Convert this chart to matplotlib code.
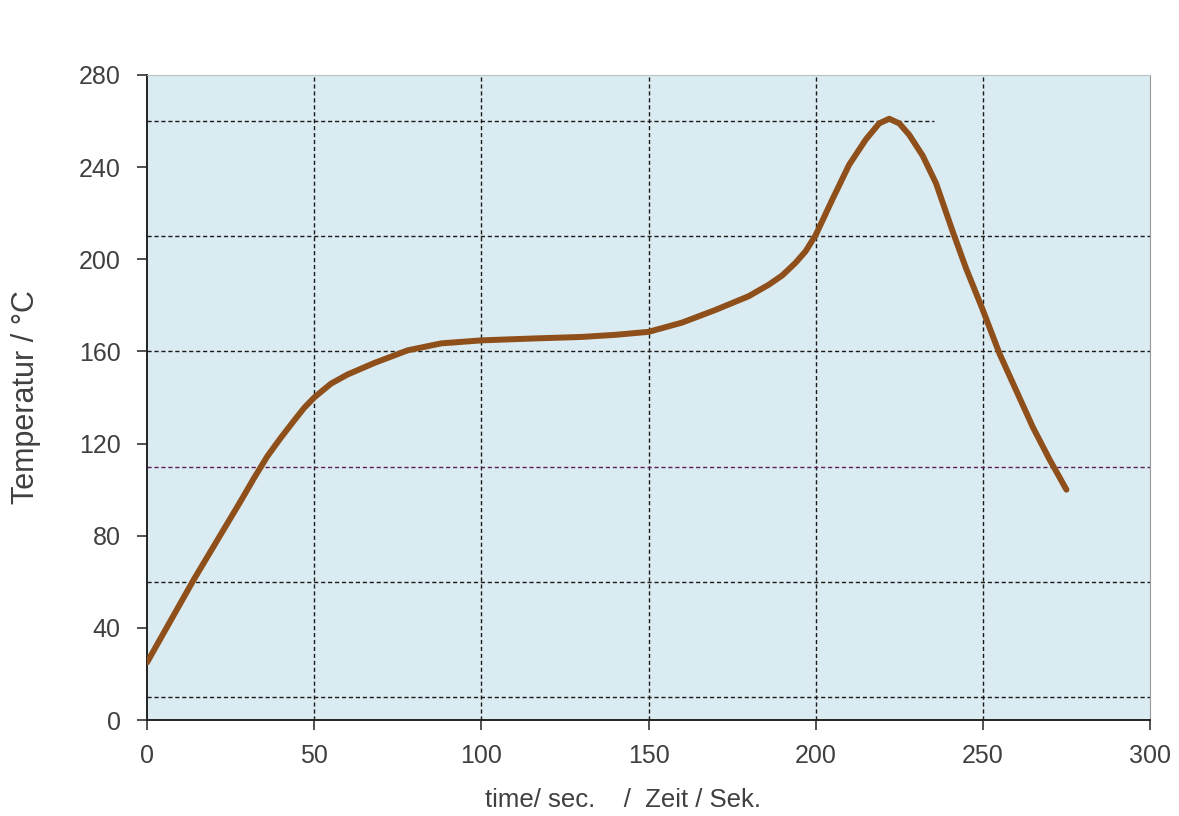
import matplotlib.pyplot as plt

plt.rcParams['font.family'] = ['Liberation Sans', 'DejaVu Sans']

# temperature profile
time_s = [0, 7, 14, 21, 28, 32, 36, 40, 44, 47, 50, 55, 60, 68, 78, 88,
          100, 115, 130, 140, 150, 160, 170, 180, 186, 190, 194, 197, 200,
          205, 210, 215, 219, 222, 225, 228, 232, 236, 241, 245, 250, 255,
          260, 265, 270, 275]
temp_c = [25, 43, 61, 78, 95, 105, 114.5, 122.5, 130, 135.5, 140, 146, 150,
          155, 160.5, 163.5, 164.8, 165.6, 166.3, 167.2, 168.5, 172.5, 178,
          184, 189, 193, 198.5, 203.5, 210.5, 226, 241, 252, 259, 261, 259,
          254, 245, 233, 212, 196, 178, 159, 143, 127, 113, 100]

# reference levels (dashed)
levels_black = [10, 60, 160, 210]
level_purple = 110
peak_level = 260
peak_level_end = 235.5
vlines_x = [50, 100, 150, 200, 250]

xticks = [0, 50, 100, 150, 200, 250, 300]
yticks = [0, 40, 80, 120, 160, 200, 240, 280]

fig = plt.figure(figsize=(11.79, 8.16), dpi=100)
ax = fig.add_axes([0.1247, 0.1176, 0.8507, 0.7905])
ax.set_facecolor('#daebf1')

dash = (0, (3, 2))
for x in vlines_x:
    ax.axvline(x, color='#1a1a1a', lw=1.0, ls=dash, zorder=1)
for y in levels_black:
    ax.axhline(y, color='#1a1a1a', lw=1.0, ls=dash, zorder=1)
ax.axhline(level_purple, color='#5c1f55', lw=1.0, ls=dash, zorder=1)
ax.plot([0, peak_level_end], [peak_level, peak_level], color='#1a1a1a',
        lw=1.0, ls=dash, zorder=1)

ax.plot(time_s, temp_c, color='#8f4f1a', lw=4.3, solid_capstyle='round',
        solid_joinstyle='round', zorder=3)

ax.set_xlim(0, 300)
ax.set_ylim(0, 280)
ax.set_xticks(xticks)
ax.set_yticks(yticks)
ax.tick_params(direction='out', length=7, width=1.2, colors='#333333',
               labelsize=18, labelcolor='#404040')
ax.tick_params(axis='x', pad=10)
ax.tick_params(axis='y', pad=12)

for side in ['left', 'bottom']:
    ax.spines[side].set_color('#222222')
    ax.spines[side].set_linewidth(1.4)
ax.spines['right'].set_color('#999999')
ax.spines['top'].set_color('#b8c4c4')
ax.spines['top'].set_linewidth(0.8)

ax.set_ylabel('Temperatur / °C', fontsize=22, color='#404040', va='center')
ax.yaxis.set_label_coords(-0.121, 0.5)
ax.set_xlabel('time/ sec.    /  Zeit / Sek.', fontsize=18.5, color='#404040',
              va='center')
ax.xaxis.set_label_coords(0.4746, -0.124)

fig.savefig('out.png', dpi=100)
